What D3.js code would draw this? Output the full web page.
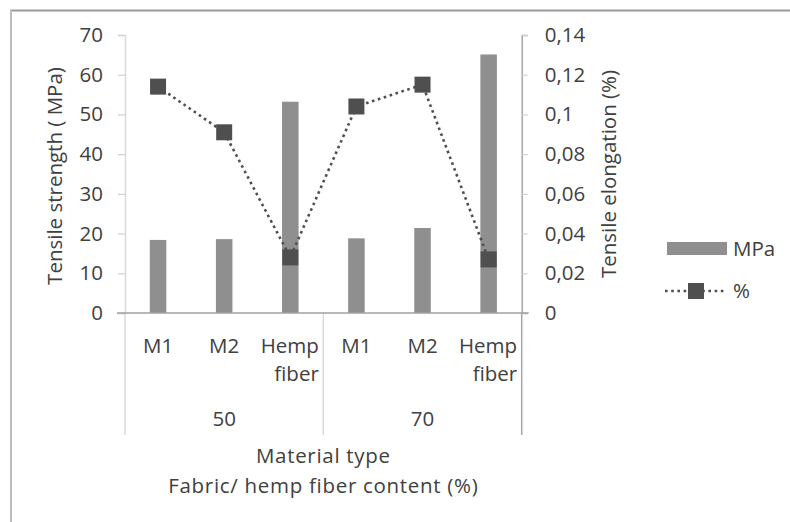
<!DOCTYPE html>
<html>
<head>
<meta charset="utf-8">
<script src="https://cdn.jsdelivr.net/npm/d3@7"></script>
<style>
  html, body { margin: 0; padding: 0; background: #fff; }
  svg { display: block; }
  text { font-family: "Open Sans", Lato, sans-serif; fill: #404040; }
</style>
</head>
<body>
<svg id="chart" width="790" height="522"></svg>
<script>
// Material types within each fibre content group
const groups = ["50", "70"];
const materials = ["M1", "M2", "Hemp fiber"];
// Tensile strength (MPa), bars on the left axis
const strengthMPa = [18.4, 18.6, 53.2, 18.8, 21.4, 65.1];
// Tensile elongation (%), markers on the right axis
const elongationPct = [0.114, 0.091, 0.028, 0.104, 0.115, 0.027];
const leftTicks = [0, 10, 20, 30, 40, 50, 60, 70];
const rightTicks = [0, 0.02, 0.04, 0.06, 0.08, 0.1, 0.12, 0.14];

const FS = 20.5;
const svg = d3.select("#chart");
const plot = { left: 125, right: 521.7, top: 35, bottom: 313 };

const cats = [];
groups.forEach(g => materials.forEach(m => cats.push({ key: g + "|" + m, group: g, mat: m })));

const x = d3.scaleBand().domain(cats.map(c => c.key)).range([plot.left, plot.right]).paddingInner(0.75).paddingOuter(0.375);
const xc = k => x(k) + x.bandwidth() / 2;
const yL = d3.scaleLinear().domain([0, 70]).range([plot.bottom, plot.top]);
const yR = d3.scaleLinear().domain([0, 0.14]).range([plot.bottom, plot.top]);

const fmtComma = d => String(+d.toFixed(2)).replace(".", ",");

// Outer frame (top and left edges only)
svg.append("line").attr("x1", 10).attr("x2", 790).attr("y1", 10.5).attr("y2", 10.5)
  .attr("stroke", "#9a9a9a").attr("stroke-width", 2);
svg.append("line").attr("x1", 11).attr("x2", 11).attr("y1", 10).attr("y2", 522)
  .attr("stroke", "#bdbdbd").attr("stroke-width", 2);

// Group separators below the axis
const groupEdges = [plot.left, (plot.left + plot.right) / 2, plot.right];
svg.selectAll(".sep").data(groupEdges).enter().append("line")
  .attr("x1", d => d).attr("x2", d => d)
  .attr("y1", plot.bottom).attr("y2", 435)
  .attr("stroke", (d, i) => i === 2 ? "#a6a6a6" : "#d9d9d9").attr("stroke-width", 1.5);

// Left axis
const axL = svg.append("g").attr("transform", `translate(${plot.left},0)`)
  .call(d3.axisLeft(yL).tickValues(leftTicks).tickSize(7).tickPadding(15));
axL.select(".domain").attr("stroke", "#d9d9d9").attr("stroke-width", 1.5);
axL.selectAll(".tick line").attr("stroke", "#d0d0d0").attr("stroke-width", 1.2);
axL.selectAll(".tick text").attr("font-size", FS).style("font-family", "'Open Sans', sans-serif").attr("fill", "#4a4a4a");

// Right axis
const axR = svg.append("g").attr("transform", `translate(${plot.right},0)`)
  .call(d3.axisRight(yR).tickValues(rightTicks).tickSize(6).tickPadding(17).tickFormat(fmtComma));
axR.select(".domain").attr("stroke", "#a6a6a6").attr("stroke-width", 1.5);
axR.selectAll(".tick line").attr("stroke", "#d0d0d0").attr("stroke-width", 1.2);
axR.selectAll(".tick text").attr("font-size", FS).style("font-family", "'Open Sans', sans-serif").attr("fill", "#4a4a4a");

// Bars
svg.selectAll(".bar").data(cats).enter().append("rect")
  .attr("x", d => x(d.key)).attr("width", x.bandwidth())
  .attr("y", (d, i) => yL(strengthMPa[i]))
  .attr("height", (d, i) => plot.bottom - yL(strengthMPa[i]))
  .attr("fill", "#8f8f8f");

// Baseline
svg.append("line").attr("x1", plot.left - 8).attr("x2", plot.right + 7)
  .attr("y1", plot.bottom).attr("y2", plot.bottom)
  .attr("stroke", "#a0a0a0").attr("stroke-width", 1.5);

// Elongation line (dotted) with square markers
const line = d3.line().x((d, i) => xc(cats[i].key)).y(d => yR(d));
svg.append("path").datum(elongationPct).attr("d", line)
  .attr("fill", "none").attr("stroke", "#4f4f4f").attr("stroke-width", 2.6)
  .attr("stroke-dasharray", "2.6,3.6");
const ms = 16;
svg.selectAll(".mk").data(elongationPct).enter().append("rect")
  .attr("x", (d, i) => xc(cats[i].key) - ms / 2).attr("y", d => yR(d) - ms / 2)
  .attr("width", ms).attr("height", ms).attr("fill", "#4f4f4f");

// Category labels
cats.forEach(c => {
  const t = svg.append("text").attr("text-anchor", c.mat === "Hemp fiber" ? "end" : "middle")
    .attr("font-size", FS);
  if (c.mat === "Hemp fiber") {
    const xr = xc(c.key) + 28.5;
    t.append("tspan").attr("x", xr).attr("y", 353).text("Hemp");
    t.append("tspan").attr("x", xr).attr("y", 381).text("fiber");
  } else {
    t.attr("x", xc(c.key)).attr("y", 353).text(c.mat);
  }
});
// Group labels
groups.forEach((g, i) => {
  svg.append("text").attr("x", (groupEdges[i] + groupEdges[i + 1]) / 2).attr("y", 426)
    .attr("text-anchor", "middle").attr("font-size", FS).text(g);
});

// Axis titles
svg.append("text").attr("x", (plot.left + plot.right) / 2).attr("y", 463)
  .attr("text-anchor", "middle").attr("font-size", FS).attr("letter-spacing", 0.7).text("Material type");
svg.append("text").attr("x", (plot.left + plot.right) / 2).attr("y", 493)
  .attr("text-anchor", "middle").attr("font-size", FS).attr("letter-spacing", 0.7).text("Fabric/ hemp fiber content (%)");
svg.append("text").attr("transform", `translate(62,176) rotate(-90)`)
  .attr("text-anchor", "middle").attr("font-size", FS).text("Tensile strength ( MPa)");
svg.append("text").attr("transform", `translate(616,174) rotate(-90)`)
  .attr("text-anchor", "middle").attr("font-size", FS).text("Tensile elongation (%)");

// Legend
const lg = svg.append("g");
lg.append("rect").attr("x", 667).attr("y", 242).attr("width", 60).attr("height", 13).attr("fill", "#8f8f8f");
lg.append("text").attr("x", 733).attr("y", 256).attr("font-size", FS).text("MPa");
lg.append("line").attr("x1", 665).attr("x2", 727).attr("y1", 291).attr("y2", 291)
  .attr("stroke", "#4f4f4f").attr("stroke-width", 2.6).attr("stroke-dasharray", "2.6,3.6");
lg.append("rect").attr("x", 688).attr("y", 283).attr("width", ms).attr("height", ms).attr("fill", "#4f4f4f");
lg.append("text").attr("x", 733).attr("y", 298).attr("font-size", FS).text("%");
</script>
</body>
</html>
